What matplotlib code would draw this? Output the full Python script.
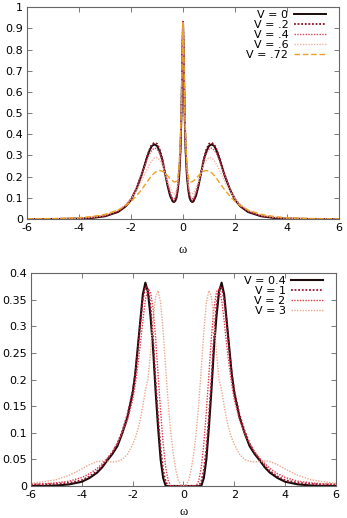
import numpy as np
import matplotlib
matplotlib.use("Agg")
import matplotlib.pyplot as plt

# ---- top panel: spectral function for small V (w >= 0, symmetric)
w_top = [0, 0.03, 0.06, 0.1, 0.15, 0.2, 0.25, 0.3, 0.35, 0.4, 0.5, 0.6, 0.7, 0.8, 0.9,
         1.0, 1.1, 1.2, 1.3, 1.4, 1.5, 1.6, 1.8, 2.0, 2.2, 2.5, 3.0, 3.5, 4.0, 5.0, 6.0]
a_v0 = [0.93, 0.75, 0.50, 0.32, 0.20, 0.14, 0.10, 0.085, 0.08, 0.083, 0.11, 0.16, 0.22, 0.28, 0.32,
        0.345, 0.352, 0.345, 0.32, 0.285, 0.245, 0.205, 0.14, 0.09, 0.06, 0.033, 0.013, 0.005, 0.002, 0.0, 0.0]
a_v02 = [0.93, 0.76, 0.51, 0.33, 0.21, 0.145, 0.105, 0.088, 0.082, 0.085, 0.115, 0.165, 0.225, 0.285, 0.33,
         0.355, 0.36, 0.352, 0.325, 0.29, 0.25, 0.21, 0.142, 0.093, 0.062, 0.035, 0.014, 0.006, 0.002, 0.0, 0.0]
a_v04 = [0.93, 0.76, 0.52, 0.34, 0.22, 0.155, 0.118, 0.1, 0.095, 0.098, 0.125, 0.17, 0.225, 0.275, 0.31,
         0.33, 0.335, 0.325, 0.305, 0.275, 0.24, 0.205, 0.145, 0.097, 0.066, 0.038, 0.016, 0.007, 0.003, 0.0, 0.0]
a_v06 = [0.93, 0.77, 0.53, 0.35, 0.235, 0.17, 0.135, 0.12, 0.118, 0.122, 0.145, 0.18, 0.22, 0.255, 0.28,
         0.29, 0.288, 0.275, 0.255, 0.23, 0.205, 0.178, 0.13, 0.095, 0.068, 0.042, 0.019, 0.009, 0.004, 0.001, 0.0]
a_v072 = [0.93, 0.78, 0.56, 0.38, 0.26, 0.2, 0.18, 0.175, 0.176, 0.18, 0.19, 0.205, 0.218, 0.226, 0.229,
          0.226, 0.218, 0.205, 0.19, 0.172, 0.155, 0.138, 0.108, 0.083, 0.063, 0.042, 0.022, 0.012, 0.006, 0.002, 0.001]
top_labels = ["V = 0", "V = .2", "V = .4", "V = .6", "V = .72"]

# ---- bottom panel: larger V
w_bot = [0, 0.1, 0.2, 0.3, 0.4, 0.5, 0.6, 0.7, 0.8, 0.9, 1.0, 1.1, 1.2, 1.3, 1.4, 1.5, 1.6, 1.7,
         1.8, 1.9, 2.0, 2.2, 2.4, 2.6, 2.8, 3.0, 3.2, 3.4, 3.7, 4.0, 4.5, 5.0, 5.5, 6.0]
b_v04 = [0, 0, 0, 0, 0, 0, 0, 0, 0.015, 0.05, 0.11, 0.18, 0.26, 0.32, 0.365, 0.382, 0.36, 0.31,
         0.26, 0.21, 0.175, 0.13, 0.1, 0.075, 0.06, 0.048, 0.035, 0.025, 0.015, 0.008, 0.003, 0.001, 0, 0]
b_v1 = [0, 0, 0, 0, 0, 0, 0, 0.008, 0.03, 0.07, 0.13, 0.2, 0.28, 0.34, 0.372, 0.375, 0.35, 0.305,
        0.255, 0.21, 0.178, 0.135, 0.104, 0.08, 0.063, 0.05, 0.038, 0.028, 0.018, 0.011, 0.006, 0.004, 0.003, 0.003]
b_v2 = [0, 0, 0, 0, 0, 0, 0.01, 0.035, 0.08, 0.14, 0.21, 0.28, 0.335, 0.365, 0.37, 0.35, 0.31, 0.265,
        0.225, 0.19, 0.162, 0.125, 0.1, 0.08, 0.064, 0.052, 0.042, 0.033, 0.023, 0.016, 0.009, 0.006, 0.004, 0.003]
b_v3 = [0, 0.002, 0.01, 0.03, 0.06, 0.1, 0.155, 0.22, 0.29, 0.345, 0.367, 0.355, 0.31, 0.25, 0.2, 0.18, 0.15, 0.125,
        0.105, 0.09, 0.078, 0.06, 0.05, 0.046, 0.045, 0.046, 0.047, 0.046, 0.04, 0.032, 0.02, 0.012, 0.008, 0.005]
bot_labels = ["V = 0.4", "V = 1", "V = 2", "V = 3"]


def mirror(w, a):
    w = np.asarray(w, float)
    a = np.asarray(a, float)
    return np.concatenate([-w[:0:-1], w]), np.concatenate([a[:0:-1], a])


def style_axes(ax, yticks, ylabels, xpad):
    ax.set_xlim(-6, 6)
    ax.set_xticks([-6, -4, -2, 0, 2, 4, 6])
    ax.set_xticklabels(["-6", "-4", "-2", "0", "2", "4", "6"])
    ax.set_yticks(yticks)
    ax.set_yticklabels(ylabels)
    ax.set_ylim(yticks[0], yticks[-1])
    ax.tick_params(direction="in", top=True, right=True, length=3.5, width=0.6,
                   labelsize=8, pad=3, color="#666666")
    for s in ax.spines.values():
        s.set_color("#666666")
        s.set_linewidth(0.8)
    ax.set_xlabel("ω", family="Liberation Serif", fontsize=9, labelpad=xpad)


def add_legend(ax):
    ax.legend(loc="upper right", bbox_to_anchor=(0.962, 0.99), frameon=False,
              markerfirst=False, fontsize=8, handlelength=2.9, labelspacing=0.0,
              handletextpad=0.5, borderaxespad=0.0, borderpad=0.1)


fig = plt.figure(figsize=(3.47, 5.18), dpi=100)

ax1 = fig.add_axes([0.078, 0.5772, 0.899, 0.409])
styles_top = [
    dict(color="#1a0a0a", lw=1.4, ls="-"),
    dict(color="#8b1020", lw=1.3, ls=(0, (1, 1))),
    dict(color="#d84860", lw=1.0, ls=(0, (1, 1))),
    dict(color="#ecb4a4", lw=1.0, ls=(0, (1, 1))),
    dict(color="#f0a020", lw=1.0, ls=(0, (4, 2))),
]
for a, lab, st in zip([a_v0, a_v02, a_v04, a_v06, a_v072], top_labels, styles_top):
    x, y = mirror(w_top, a)
    ax1.plot(x, y, label=lab, **st)
style_axes(ax1, [0, 0.1, 0.2, 0.3, 0.4, 0.5, 0.6, 0.7, 0.8, 0.9, 1.0],
           ["0", "0.1", "0.2", "0.3", "0.4", "0.5", "0.6", "0.7", "0.8", "0.9", "1"], 8)
add_legend(ax1)

ax2 = fig.add_axes([0.0893, 0.0618, 0.879, 0.411])
styles_bot = [
    dict(color="#1a0a0a", lw=1.5, ls="-"),
    dict(color="#9b1530", lw=1.3, ls=(0, (1, 1))),
    dict(color="#e03848", lw=1.0, ls=(0, (1, 1))),
    dict(color="#eaa88c", lw=1.0, ls=(0, (1, 1))),
]
for b, lab, st in zip([b_v04, b_v1, b_v2, b_v3], bot_labels, styles_bot):
    x, y = mirror(w_bot, b)
    ax2.plot(x, y, label=lab, **st)
style_axes(ax2, [0, 0.05, 0.1, 0.15, 0.2, 0.25, 0.3, 0.35, 0.4],
           ["0", "0.05", "0.1", "0.15", "0.2", "0.25", "0.3", "0.35", "0.4"], 4)
add_legend(ax2)

fig.savefig("out.png", dpi=100)
